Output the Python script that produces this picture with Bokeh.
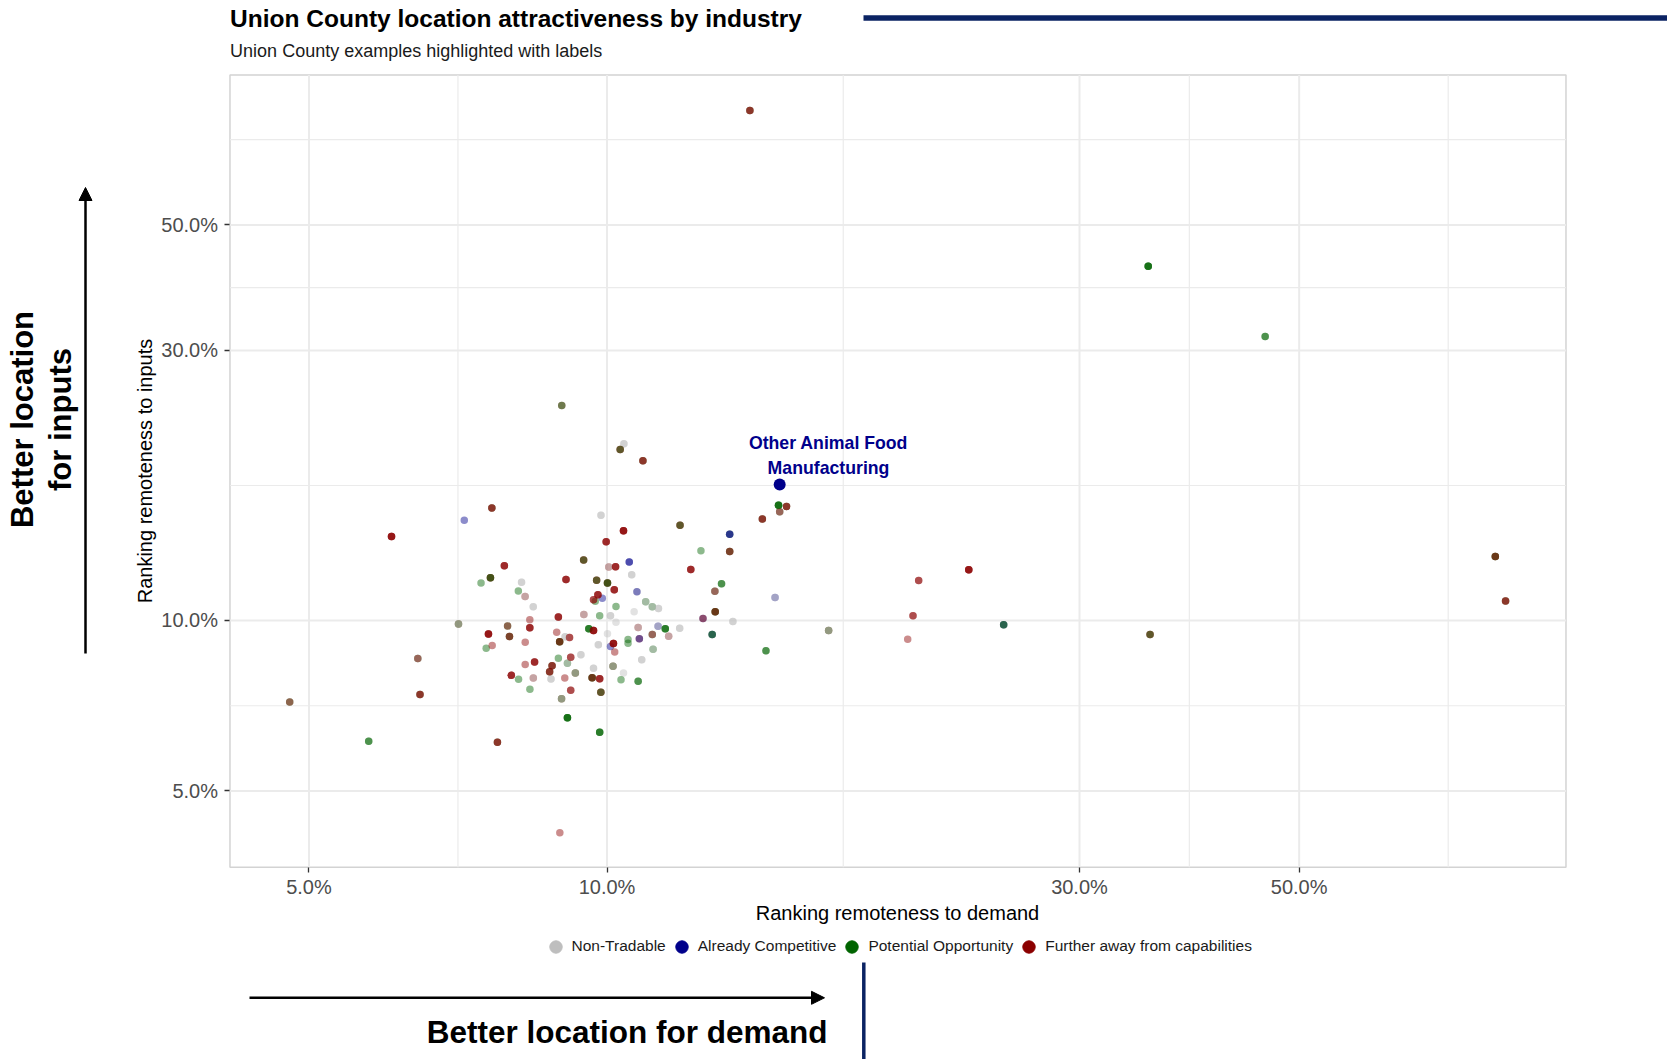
import math
import numpy as np
from bokeh.plotting import figure
from bokeh.models import (Range1d, FixedTicker, NumeralTickFormatter, Label, Arrow,
                          NormalHead, Legend, LegendItem, BoxAnnotation)
from bokeh.embed import file_html
from bokeh.resources import INLINE

# ---------------- data ----------------
CATEGORIES = ["Non-Tradable", "Already Competitive", "Potential Opportunity",
              "Further away from capabilities"]
CATEGORY_CODES = ["N", "B", "G", "R"]
CATEGORY_COLORS = ["#BEBEBE", "#00008B", "#006400", "#8B0000"]

# ranking remoteness to demand (x) and to inputs (y), as fractions
demand = [0.1394, 0.352, 0.462, 0.0900, 0.1040, 0.1031, 0.1087, 0.1490, 0.1518, 0.1494,
          0.0765, 0.07175, 0.0986, 0.06058, 0.1185, 0.1039, 0.1435, 0.1330, 0.0998, 0.1330,
          0.1244, 0.0947, 0.1053, 0.07876, 0.1004, 0.1020, 0.1215, 0.1059, 0.0746, 0.07625,
          0.08197, 0.0909, 0.0976, 0.1001, 0.1305, 0.08136, 0.08265, 0.1017, 0.1072, 0.0979,
          0.0969, 0.0989, 0.0973, 0.1285, 0.1478, 0.08423, 0.1021, 0.1094, 0.1111, 0.1127,
          0.1065, 0.1286, 0.1250, 0.1340, 0.1674, 0.07079, 0.07935, 0.08356, 0.08356, 0.0893,
          0.09475, 0.0983, 0.1008, 0.1021, 0.1075, 0.1126, 0.1145, 0.1184, 0.1277, 0.1111,
          0.1154, 0.1078, 0.1050, 0.1050, 0.1001, 0.09585, 0.0969, 0.0759, 0.0797, 0.08895,
          0.0907, 0.09165, 0.08267, 0.08956, 0.1015, 0.0980, 0.1008, 0.1018, 0.0755, 0.07656,
          0.0941, 0.1113, 0.1084, 0.0644, 0.0893, 0.0919, 0.08449, 0.08267, 0.0880, 0.0912,
          0.0875, 0.0969, 0.1014, 0.0929, 0.08004, 0.0814, 0.08425, 0.08778, 0.09064, 0.0966,
          0.0983, 0.1039, 0.1033, 0.1075, 0.08358, 0.0919, 0.09857, 0.08996, 0.06473, 0.04781,
          0.0912, 0.0983, 0.05745, 0.0775, 0.0896, 0.1447, 0.2064, 0.2319, 0.2037, 0.2012,
          0.2515, 0.3535, 0.789, 0.808]
inputs = [0.796, 0.4225, 0.3176, 0.2399, 0.2052, 0.2005, 0.1915, 0.1598, 0.1590, 0.1557,
          0.1581, 0.1504, 0.1534, 0.1407, 0.1474, 0.1440, 0.1511, 0.1420, 0.1378, 0.1324,
          0.1328, 0.1279, 0.1269, 0.1249, 0.1243, 0.1244, 0.1230, 0.1205, 0.1165, 0.1190,
          0.1168, 0.1181, 0.1178, 0.1165, 0.1161, 0.1127, 0.1103, 0.1133, 0.1124, 0.1111,
          0.1088, 0.1095, 0.1082, 0.1126, 0.1098, 0.1057, 0.1059, 0.1079, 0.1058, 0.1050,
          0.1036, 0.1036, 0.1008, 0.0996, 0.0960, 0.0986, 0.0978, 0.1003, 0.0971, 0.1014,
          0.1025, 0.1020, 0.1020, 0.0993, 0.0972, 0.0977, 0.0967, 0.0969, 0.0945, 0.0945,
          0.0938, 0.0928, 0.0926, 0.0912, 0.0948, 0.0967, 0.0960, 0.0947, 0.0937, 0.0953,
          0.0936, 0.0933, 0.09155, 0.09174, 0.0911, 0.0906, 0.08994, 0.0880, 0.08935, 0.09034,
          0.0870, 0.08895, 0.0852, 0.08565, 0.08577, 0.0861, 0.0845, 0.0836, 0.0832, 0.0840,
          0.0812, 0.08235, 0.0830, 0.08075, 0.0800, 0.07876, 0.07914, 0.07882, 0.07914, 0.0792,
          0.07888, 0.08075, 0.07856, 0.07811, 0.07561, 0.0753, 0.07466, 0.07274, 0.07399, 0.0718,
          0.06731, 0.0635, 0.0612, 0.06093, 0.04216, 0.0884, 0.1177, 0.1229, 0.1020, 0.0927,
          0.09826, 0.0945, 0.1297, 0.1083]
# overlapping county categories at each industry point (N/B/G/R, in drawing order)
county_mix = ["GRR", "GGGG", "GG", "RG", "NN", "RRG", "GRR", "GGGG", "GRR", "GNR",
              "GRR", "B", "NN", "RRRR", "RRG", "RRRR", "GRR", "GBB", "RRR", "RGR",
              "G", "RRG", "BB", "RRR", "RN", "RRR", "RRR", "NN", "G", "RGRG",
              "NN", "RRR", "RRG", "RGRG", "GG", "G", "RN", "RRR", "NB", "RRR",
              "RR", "B", "G", "GNR", "BN", "NN", "G", "GN", "GN", "NN",
              "N", "GRGR", "BR", "NN", "RGN", "RGN", "GR", "R", "RRR", "RRR",
              "RN", "G", "NN", "N", "RN", "BN", "GGG", "NN", "GBG", "GNR",
              "RN", "RB", "G", "G", "N", "GGG", "RRRR", "RRRR", "RGR", "R",
              "NN", "RR", "R", "GRGR", "RRRR", "NN", "B", "R", "G", "R",
              "NN", "GN", "NN", "GNR", "G", "RR", "RRR", "R", "GRR", "GN",
              "GRR", "NN", "RGN", "RGN", "RRR", "G", "RN", "NN", "R", "GRGR",
              "RRR", "N", "G", "GG", "G", "RR", "RRG", "RGN", "GRR", "GR",
              "GGGG", "GGG", "GG", "GRR", "R", "GG", "RR", "RRRR", "RR", "R",
              "GBG", "RRG", "GRGR", "GRR"]

highlight_name = ["Other Animal Food", "Manufacturing"]
highlight_demand = 0.1494
highlight_inputs = 0.1739

major_ticks = [0.05, 0.10, 0.30, 0.50]
minor_ticks = [0.0707, 0.1732, 0.3873, 0.7071]

# panel limits (data space)
X_LIM = (0.04161, 0.9299)
Y_LIM = (0.03664, 0.9205)

# ---------------- layout ----------------
W, H = 1667, 1059
FONT = "Liberation Sans"


def sy(py):
    """page pixel row -> screen units measured up from the canvas bottom"""
    return H - py


p = figure(width=W, height=H, x_axis_type="log", y_axis_type="log",
           x_range=Range1d(0.024403, 1.1775), y_range=Range1d(0.016763, 1.2458),
           output_backend="svg", toolbar_location=None,
           min_border=0, background_fill_color="white", border_fill_color="white")
p.title.visible = False
p.outline_line_color = None
p.grid.visible = False

# grid lines limited to the panel
grid_color = "#ebebeb"
p.segment(x0=major_ticks, x1=major_ticks, y0=[Y_LIM[0]] * 4, y1=[Y_LIM[1]] * 4,
          line_color=grid_color, line_width=2)
p.segment(x0=minor_ticks, x1=minor_ticks, y0=[Y_LIM[0]] * 4, y1=[Y_LIM[1]] * 4,
          line_color=grid_color, line_width=1.2)
p.segment(x0=[X_LIM[0]] * 4, x1=[X_LIM[1]] * 4, y0=major_ticks, y1=major_ticks,
          line_color=grid_color, line_width=2)
p.segment(x0=[X_LIM[0]] * 4, x1=[X_LIM[1]] * 4, y0=minor_ticks, y1=minor_ticks,
          line_color=grid_color, line_width=1.2)

ticker = FixedTicker(ticks=major_ticks, minor_ticks=minor_ticks)
xax, yax = p.xaxis[0], p.yaxis[0]
xax.fixed_location = Y_LIM[0]
yax.fixed_location = X_LIM[0]
xax.bounds = X_LIM
yax.bounds = Y_LIM
for ax in (xax, yax):
    ax.ticker = ticker
    ax.formatter = NumeralTickFormatter(format="0.0%")
    ax.axis_line_color = None
    ax.major_tick_line_color = "#333333"
    ax.major_tick_line_width = 1.3
    ax.major_tick_in = 0
    ax.major_tick_out = 5
    ax.minor_tick_line_color = None
    ax.major_label_text_font = FONT
    ax.major_label_text_font_size = "20px"
    ax.major_label_text_color = "#4d4d4d"
    ax.axis_label_text_font = FONT
    ax.axis_label_text_font_size = "20px"
    ax.axis_label_text_font_style = "normal"
    ax.axis_label_text_color = "black"
xax.major_label_standoff = 4
xax.axis_label_standoff = 0
yax.major_label_standoff = 7
yax.axis_label_standoff = 2
xax.axis_label = "Ranking remoteness to demand"
yax.axis_label = "Ranking remoteness to inputs"

# panel border
p.add_layout(BoxAnnotation(left=X_LIM[0], right=X_LIM[1], bottom=Y_LIM[0], top=Y_LIM[1],
                           fill_alpha=0, line_color="#6e6e6e", line_width=1.5,
                           level="underlay"))

# ---------------- points ----------------
LAYER_ALPHA = 0.45
max_layers = max(len(m) for m in county_mix)
for k in range(max_layers):
    for code, color in zip(CATEGORY_CODES, CATEGORY_COLORS):
        idx = [i for i, m in enumerate(county_mix) if len(m) > k and m[k] == code]
        if not idx:
            continue
        p.scatter([demand[i] for i in idx], [inputs[i] for i in idx], size=7.5,
                  fill_color=color, fill_alpha=LAYER_ALPHA, line_color=None)

p.scatter([highlight_demand], [highlight_inputs], size=12,
          fill_color=CATEGORY_COLORS[1], line_color=None)
for line, dy in zip(highlight_name, (41.7, 16.2)):
    p.add_layout(Label(x=highlight_demand, y=highlight_inputs, x_offset=48.8, y_offset=dy,
                       text=line, text_align="center", text_baseline="middle",
                       text_font=FONT, text_font_size="17.7px", text_font_style="bold",
                       text_color=CATEGORY_COLORS[1]))

# ---------------- legend ----------------
legend_renderers = [p.scatter(x=np.array([np.nan]), y=np.array([np.nan]), size=12,
                              fill_color=c, line_color=c)
                    for c in CATEGORY_COLORS]
legend = Legend(items=[LegendItem(label=lab, renderers=[r])
                       for lab, r in zip(CATEGORIES, legend_renderers)],
                orientation="horizontal", location=(539.5, 97.2),
                glyph_width=31, glyph_height=31, label_standoff=1, spacing=0,
                padding=0, margin=0, border_line_color=None,
                background_fill_alpha=0, label_text_font=FONT,
                label_text_font_size="15.5px", label_text_color="#1a1a1a")
p.add_layout(legend)

# ---------------- titles & annotations ----------------
p.add_layout(Label(x=229.6, y=sy(17.6), x_units="screen", y_units="screen",
                   text="Union County location attractiveness by industry",
                   text_font=FONT, text_font_size="24.5px", text_font_style="bold",
                   text_align="left", text_baseline="middle", text_color="black"))
p.add_layout(Label(x=229.6, y=sy(50.8), x_units="screen", y_units="screen",
                   text="Union County examples highlighted with labels",
                   text_font=FONT, text_font_size="18px",
                   text_align="left", text_baseline="middle", text_color="#1a1a1a"))

NAVY = "#0b2363"
p.add_layout(Arrow(start=None, end=None, x_start=863, y_start=sy(17.5),
                   x_end=1670, y_end=sy(17.5), start_units="screen",
                   end_units="screen", line_color=NAVY, line_width=5.3))
p.add_layout(Arrow(start=None, end=None, x_start=863.3, y_start=sy(962),
                   x_end=863.3, y_end=sy(1062), start_units="screen",
                   end_units="screen", line_color=NAVY, line_width=3.5))

p.add_layout(Arrow(end=NormalHead(size=13, fill_color="black", line_color="black"),
                   x_start=85, y_start=sy(653), x_end=85, y_end=sy(187),
                   start_units="screen", end_units="screen",
                   line_color="black", line_width=2.5))
p.add_layout(Arrow(end=NormalHead(size=13, fill_color="black", line_color="black"),
                   x_start=249, y_start=sy(997.3), x_end=824, y_end=sy(997.3),
                   start_units="screen", end_units="screen",
                   line_color="black", line_width=2.5))

for txt, cx in (("Better location", 22.3), ("for inputs", 59.5)):
    p.add_layout(Label(x=cx, y=sy(419), x_units="screen", y_units="screen",
                       text=txt, angle=math.pi / 2, text_align="center",
                       text_baseline="middle", text_font=FONT, text_font_size="31px",
                       text_font_style="bold", text_color="black"))
p.add_layout(Label(x=827, y=sy(1031.5), x_units="screen", y_units="screen",
                   text="Better location for demand", text_align="right",
                   text_baseline="middle", text_font=FONT, text_font_size="31.5px",
                   text_font_style="bold", text_color="black"))

open("out.html", "w").write(file_html(p, INLINE))
